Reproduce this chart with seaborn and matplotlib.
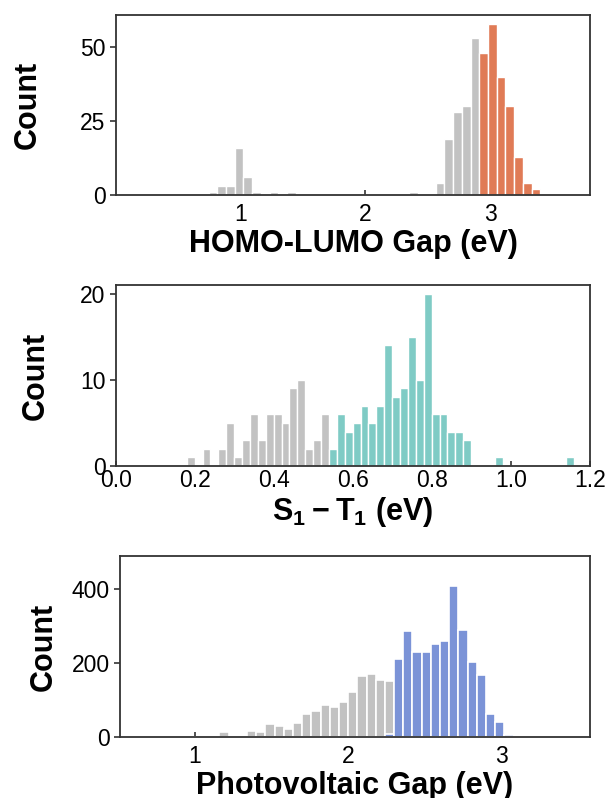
import numpy as np
import pandas as pd
import matplotlib
matplotlib.use("Agg")
import matplotlib.pyplot as plt
import seaborn as sns

sns.set_style("ticks")
plt.rcParams['font.family'] = ['Liberation Sans', 'DejaVu Sans']
plt.rcParams['mathtext.fontset'] = 'custom'
plt.rcParams['mathtext.rm'] = 'Liberation Sans'
plt.rcParams['mathtext.bf'] = 'Liberation Sans:bold'
plt.rcParams['text.color'] = 'black'
plt.rcParams['axes.labelcolor'] = 'black'
plt.rcParams['xtick.labelcolor'] = 'black'
plt.rcParams['ytick.labelcolor'] = 'black'

# HOMO-LUMO gap (eV): bin centers and counts
homo_gray_x = [0.777, 0.847, 0.917, 0.987, 1.057, 1.127, 1.267, 1.407, 2.387,
               2.597, 2.667, 2.737, 2.807, 2.877]
homo_gray_n = [1, 3, 3, 16, 6, 1, 1, 1, 1, 4, 19, 28, 30, 53]
homo_sel_x = [2.947, 3.017, 3.087, 3.157, 3.227, 3.297, 3.367]
homo_sel_n = [48, 58, 40, 30, 13, 4, 2]

# S1 - T1 (eV)
st_gray_x = [0.189, 0.229, 0.269, 0.289, 0.309, 0.329, 0.349, 0.369, 0.389,
             0.409, 0.429, 0.449, 0.469, 0.489, 0.509, 0.529]
st_gray_n = [1, 2, 2, 5, 1, 3, 6, 3, 6, 6, 5, 9, 10, 2, 3, 6]
st_sel_x = [0.549, 0.569, 0.589, 0.609, 0.629, 0.649, 0.669, 0.689, 0.709,
            0.729, 0.749, 0.769, 0.789, 0.809, 0.829, 0.849, 0.869, 0.889,
            0.969, 1.149]
st_sel_n = [2, 6, 4, 5, 7, 5, 7, 14, 8, 9, 15, 10, 20, 6, 6, 4, 4, 3, 1, 1]

# Photovoltaic gap (eV)
pv_gray_x = [0.948, 1.188, 1.308, 1.368, 1.428, 1.488, 1.548, 1.608, 1.668,
             1.728, 1.788, 1.848, 1.908, 1.968, 2.028, 2.088, 2.148, 2.208, 2.268]
pv_gray_n = [2, 14, 3, 15, 14, 34, 29, 22, 38, 62, 70, 86, 82, 96, 121, 166,
             171, 155, 153]
pv_sel_x = [2.268, 2.328, 2.388, 2.448, 2.508, 2.568, 2.628, 2.688, 2.748,
            2.808, 2.868, 2.928, 2.988, 3.048, 3.108]
pv_sel_n = [7, 212, 288, 231, 229, 253, 260, 409, 290, 202, 168, 62, 42, 5, 2]

gray = "#c2c2c2"
panels = [
    dict(gx=homo_gray_x, gn=homo_gray_n, sx=homo_sel_x, sn=homo_sel_n,
         color="#e07b56", bw=0.07, rect=[0.1911, 0.7556, 0.7809, 0.2256],
         xlim=(0, 3.8), xticks=[1, 2, 3], ylim=(0, 60.9), yticks=[0, 25, 50],
         xlabel="HOMO-LUMO Gap (eV)", pad=6, lab_x=-0.155, lw=1.0),
    dict(gx=st_gray_x, gn=st_gray_n, sx=st_sel_x, sn=st_sel_n,
         color="#7fcbc5", bw=0.02, rect=[0.1911, 0.4160, 0.7809, 0.2268],
         xlim=(0, 1.2), xticks=np.arange(0, 1.21, 0.2), ylim=(0, 21),
         yticks=[0, 10, 20], xlabel=r"$\mathbf{S_1-T_1}$ (eV)", pad=2,
         lab_x=-0.137, lw=1.0),
    dict(gx=pv_gray_x, gn=pv_gray_n, sx=pv_sel_x, sn=pv_sel_n,
         color="#7b93d7", bw=0.06, rect=[0.1977, 0.0764, 0.7743, 0.2268],
         xlim=(0.51, 3.576), xticks=[1, 2, 3], ylim=(0, 490),
         yticks=[0, 200, 400], xlabel="Photovoltaic Gap (eV)", pad=6,
         lab_x=-0.13, lw=1.2),
]

fig = plt.figure(figsize=(6.07, 7.98), dpi=100)
for p in panels:
    ax = fig.add_axes(p['rect'])
    lo = min(p['gx'] + p['sx']) - p['bw'] / 2
    hi = max(p['gx'] + p['sx']) + p['bw'] / 2
    df_g = pd.DataFrame({'x': p['gx'], 'n': p['gn']})
    df_s = pd.DataFrame({'x': p['sx'], 'n': p['sn']})
    sns.histplot(data=df_g, x='x', weights='n', binwidth=p['bw'],
                 binrange=(lo, hi), color=gray, alpha=1, edgecolor='white',
                 linewidth=p['lw'], ax=ax)
    sns.histplot(data=df_s, x='x', weights='n', binwidth=p['bw'],
                 binrange=(lo, hi), color=p['color'], alpha=1,
                 edgecolor='white', linewidth=p['lw'], ax=ax)
    ax.set_xlim(p['xlim'])
    ax.set_ylim(p['ylim'])
    ax.set_xticks(p['xticks'])
    ax.set_yticks(p['yticks'])
    if p['xlabel'].startswith('$'):
        ax.set_xticklabels([f"{t:.1f}" for t in p['xticks']])
    ax.tick_params(axis='x', direction='in', length=3.5, width=1.1,
                   labelsize=16.5, pad=p['pad'], color='#222222')
    ax.tick_params(axis='y', direction='out', length=4, width=1.1,
                   labelsize=16.5, color='#222222')
    for s in ax.spines.values():
        s.set_color('#333333')
        s.set_linewidth(1.3)
        s.set_visible(True)
    ax.set_xlabel(p['xlabel'], fontsize=22, fontweight='bold', labelpad=2)
    ax.set_ylabel('Count', fontsize=22, fontweight='bold')
    ax.yaxis.set_label_coords(p['lab_x'], 0.5)

fig.savefig('out.png', dpi=100)
